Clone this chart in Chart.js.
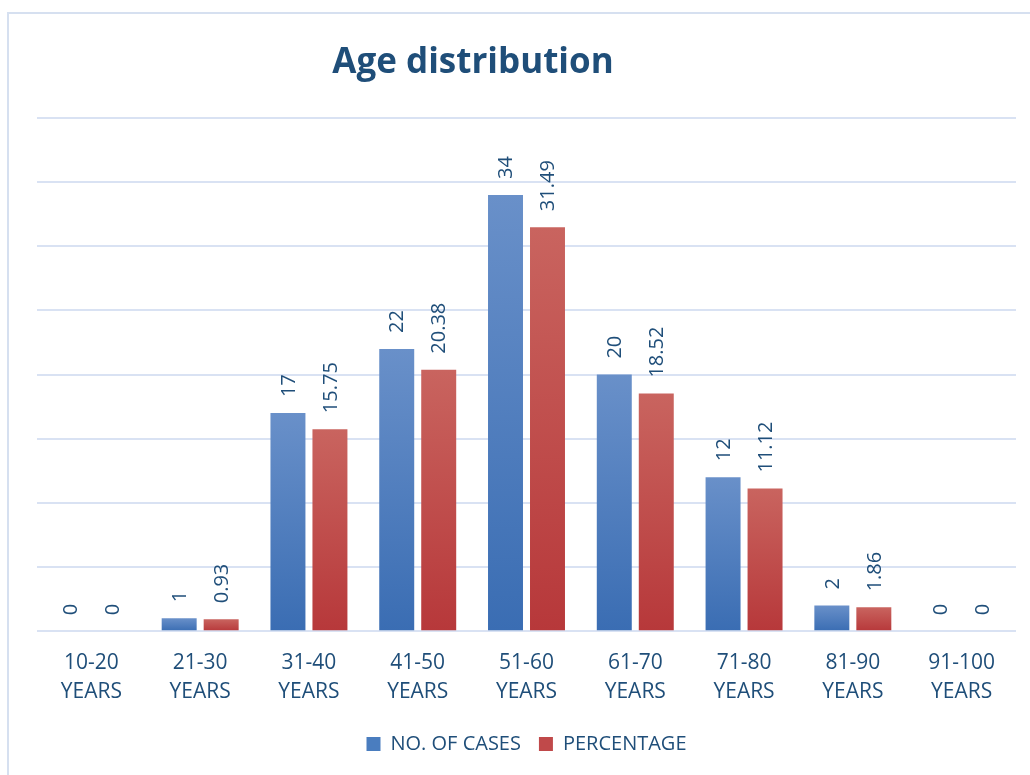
<!DOCTYPE html>
<html>
<head>
<meta charset="utf-8">
<script src="https://cdn.jsdelivr.net/npm/chart.js@4/dist/chart.umd.min.js"></script>
<style>
  html, body { margin: 0; padding: 0; background: #ffffff; }
  #wrap { position: relative; width: 1030px; height: 775px; }
</style>
</head>
<body>
<div id="wrap"><canvas id="c" width="1030" height="775"></canvas></div>
<script>
const categories = [
  ["10-20", "YEARS"], ["21-30", "YEARS"], ["31-40", "YEARS"], ["41-50", "YEARS"],
  ["51-60", "YEARS"], ["61-70", "YEARS"], ["71-80", "YEARS"], ["81-90", "YEARS"], ["91-100", "YEARS"]
];
const casesValues = [0, 1, 17, 22, 34, 20, 12, 2, 0];
const casesLabels = ["0", "1", "17", "22", "34", "20", "12", "2", "0"];
const percentValues = [0, 0.93, 15.75, 20.38, 31.49, 18.52, 11.12, 1.86, 0];
const percentLabels = ["0", "0.93", "15.75", "20.38", "31.49", "18.52", "11.12", "1.86", "0"];
const titleText = "Age distribution";
const seriesNames = ["NO. OF CASES", "PERCENTAGE"];

const TEXT_COLOR = "#1f4e79";
const FONT = "'Open Sans', 'DejaVu Sans', sans-serif";

function gradientFill(top, bottom, solid) {
  return function (ctx) {
    const chart = ctx.chart;
    const ys = chart.scales && chart.scales.y;
    if (!ys || ctx.raw === undefined || ctx.type !== 'data') return solid;
    const yTop = ys.getPixelForValue(ctx.raw);
    const yBot = ys.getPixelForValue(0);
    if (!isFinite(yTop) || !isFinite(yBot) || Math.abs(yBot - yTop) < 1) return solid;
    const g = chart.ctx.createLinearGradient(0, yTop, 0, yBot);
    g.addColorStop(0, top);
    g.addColorStop(1, bottom);
    return g;
  };
}

const framePlugin = {
  id: 'frame',
  beforeDraw(chart) {
    const c = chart.ctx;
    c.save();
    c.strokeStyle = '#d6e0f0';
    c.lineWidth = 2;
    c.strokeRect(8, 13, 1060, 800);
    c.restore();
  }
};

const titlePlugin = {
  id: 'customTitle',
  afterDraw(chart) {
    const c = chart.ctx;
    c.save();
    c.font = "bold 35px " + FONT;
    c.fillStyle = TEXT_COLOR;
    c.textAlign = 'center';
    c.textBaseline = 'middle';
    c.fillText(titleText, 473, 63);
    c.restore();
  }
};

const labelPlugin = {
  id: 'barLabels',
  afterDatasetsDraw(chart) {
    const c = chart.ctx;
    const allLabels = [casesLabels, percentLabels];
    c.save();
    c.font = "20px " + FONT;
    c.fillStyle = TEXT_COLOR;
    c.textAlign = 'left';
    c.textBaseline = 'middle';
    chart.data.datasets.forEach((ds, di) => {
      const meta = chart.getDatasetMeta(di);
      meta.data.forEach((el, i) => {
        c.save();
        c.translate(el.x, el.y - 16);
        c.rotate(-Math.PI / 2);
        c.fillText(allLabels[di][i], 0, 1);
        c.restore();
      });
    });
    c.restore();
  }
};

new Chart(document.getElementById('c'), {
  type: 'bar',
  data: {
    labels: categories,
    datasets: [
      {
        label: seriesNames[0],
        data: casesValues,
        backgroundColor: gradientFill('#6990c9', '#3a6db3', '#4a7dbf'),
        categoryPercentage: 0.772,
        barPercentage: 0.833
      },
      {
        label: seriesNames[1],
        data: percentValues,
        backgroundColor: gradientFill('#c9645f', '#b7383a', '#c0494a'),
        categoryPercentage: 0.772,
        barPercentage: 0.833
      }
    ]
  },
  options: {
    responsive: false,
    animation: false,
    layout: { padding: { left: 37, right: 14, top: 118, bottom: 11 } },
    plugins: {
      title: { display: false },
      tooltip: { enabled: false },
      legend: {
        position: 'bottom',
        labels: {
          boxWidth: 14,
          boxHeight: 14,
          padding: 18,
          color: TEXT_COLOR,
          font: { family: FONT, size: 20 }
        }
      }
    },
    scales: {
      x: {
        grid: { display: false },
        border: { display: false },
        ticks: {
          color: TEXT_COLOR,
          font: { family: FONT, size: 21, lineHeight: 1.4 },
          padding: 9,
          maxRotation: 0,
          autoSkip: false
        }
      },
      y: {
        min: 0,
        max: 40,
        ticks: { display: false, stepSize: 5 },
        border: { display: false },
        grid: { color: '#d9e2f3', lineWidth: 2, drawTicks: false }
      }
    }
  },
  plugins: [framePlugin, titlePlugin, labelPlugin]
});
</script>
</body>
</html>
